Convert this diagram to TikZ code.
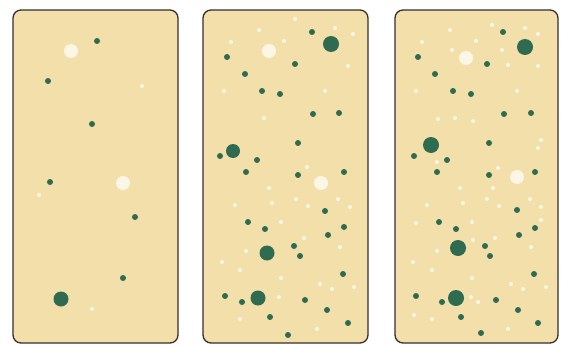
\documentclass[tikz,border=0pt]{standalone}
\definecolor{paper}{HTML}{F2DFAA}
\definecolor{dotg}{HTML}{2F6B50}
\definecolor{doww}{HTML}{FCF6E6}
\definecolor{rim}{HTML}{3A2E2E}
\tikzset{
  panel/.style={draw=rim,line width=1.3pt,fill=paper,rounded corners=8pt},
  gs/.style={fill=dotg},
  ws/.style={fill=doww},
}
\newcommand{\G}[3]{\fill[gs] (#1,#2) circle (#3);}
\newcommand{\W}[3]{\fill[ws] (#1,#2) circle (#3);}
\begin{document}
\begin{tikzpicture}[x=1pt,y=-1pt]
\useasboundingbox (0,0) rectangle (564,345);
\fill[white] (0,0) rectangle (564,345);
% panels
\draw[panel] (13,10) rectangle (178,343);
\draw[panel] (203,10) rectangle (368,343);
\draw[panel] (395,10) rectangle (558,343);
% panel 1
\W{71}{51}{7} \W{123}{183}{7}
\W{142}{86}{2} \W{39}{195}{2} \W{92}{309}{2}
\G{97}{41}{3} \G{48}{81}{3} \G{92}{124}{3} \G{50}{182}{3}
\G{135}{217}{3} \G{123}{278}{3} \G{61}{299}{7.5}
% panel 2
\W{269}{51}{7} \W{321}{183}{7}
\foreach \x/\y in {295/19,259/30,335/28,353/34,231/42,284/41,348/66,224/91,325/91,264/118,
  307/167,269/188,235/205,272/203,296/199,308/206,338/199,350/207,281/222,304/238,340/247,
  246/251,222/262,240/270,281/278,320/284,332/289,354/287,279/297,240/319,317/329}
  {\W{\x}{\y}{2}}
\foreach \x/\y in {312/32,227/57,295/64,245/74,262/91,280/94,313/114,339/113,298/143,
  220/156,257/160,246/172,298/175,344/172,325/211,248/222,265/229,344/227,328/235,294/246,
  300/256,343/274,225/296,242/302,305/300,270/317,327/310,348/323,288/335}
  {\G{\x}{\y}{3}}
\G{331}{44}{8} \G{233}{151}{7} \G{267}{253}{7.5} \G{258}{298}{7.5}
% panel 3
\W{466}{58}{7} \W{517}{177}{7}
\foreach \x/\y in {492/25,450/30,525/28,538/34,422/42,476/41,502/50,452/50,508/65,538/66,
  416/91,517/91,438/119,455/118,473/121,541/140,538/148,437/162,498/168,460/188,493/188,
  427/205,463/203,487/199,499/206,530/199,541/207,416/223,472/222,541/220,473/240,495/238,
  531/247,437/251,413/262,432/270,472/278,511/284,523/289,546/287,471/297,478/302,414/315,
  432/319,508/329}
  {\W{\x}{\y}{2}}
\foreach \x/\y in {503/32,418/57,487/64,435/74,453/91,471/94,504/114,531/113,489/143,
  414/156,447/160,437/172,489/175,535/172,517/210,439/222,456/229,535/228,519/235,485/246,
  490/256,534/274,416/296,442/302,496/300,461/317,518/310,538/323,481/333}
  {\G{\x}{\y}{3}}
\G{525}{47}{8} \G{431}{145}{8} \G{458}{248}{8} \G{456}{298}{8}
\end{tikzpicture}
\end{document}
